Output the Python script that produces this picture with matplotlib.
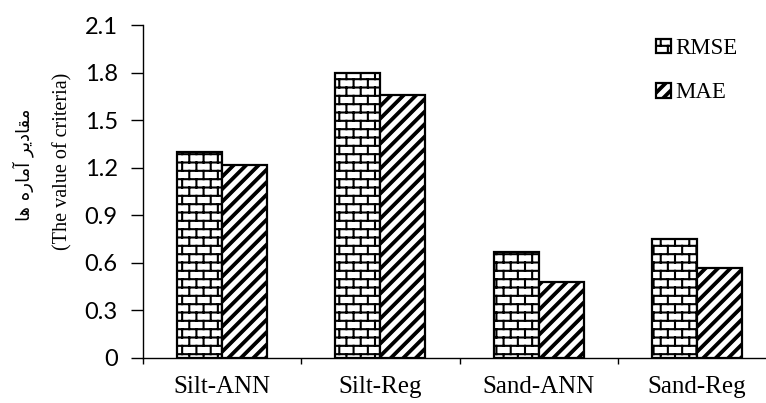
"""
bar chart of RMSE / MAE for the silt and sand models
"""

import warnings
import numpy as np
import matplotlib
matplotlib.use("Agg")
import matplotlib.pyplot as plt
import matplotlib.hatch as mhatch
from matplotlib.path import Path

warnings.filterwarnings("ignore")

categories = ["Silt-ANN", "Silt-Reg", "Sand-ANN", "Sand-Reg"]
rmse = [1.30, 1.80, 0.67, 0.75]
mae = [1.22, 1.66, 0.48, 0.57]
yticks = [0, 0.3, 0.6, 0.9, 1.2, 1.5, 1.8, 2.1]
ylabel_fa = "\ufe8e\ufeeb \ufee9\ufead\ufe8e\ufee3\ufe81 \ufeae\ufef3\ufea9\ufe8e\ufed8\ufee3"  # مقادیر آماره ها (shaped, visual order)
ylabel_en = "(The value of criteria)"


class BrickHatch(mhatch.HatchPatternBase):
    """brick wall pattern, used with hatch 'b'"""
    rows, cols = 12, 7

    def __init__(self, hatch, density):
        self.on = "b" in hatch
        nseg = self.rows + (self.rows + 1) * self.cols
        self.num_vertices = 2 * nseg if self.on else 0

    def set_vertices_and_codes(self, vertices, codes):
        segs = []
        ys = (np.arange(self.rows) + 0.5) / self.rows
        for y in ys:
            segs.append((-0.1, y, 1.1, y))
        for i in range(-1, self.rows):
            y0 = (i + 0.5) / self.rows
            y1 = (i + 1.5) / self.rows
            for j in range(self.cols):
                x = (j + 0.25 + 0.5 * (i % 2)) / self.cols
                segs.append((x, y0, x, y1))
        segs = np.array(segs)
        vertices[0::2] = segs[:, :2]
        vertices[1::2] = segs[:, 2:]
        codes[0::2] = Path.MOVETO
        codes[1::2] = Path.LINETO


class StripeHatch(mhatch.HatchPatternBase):
    """wide upward diagonal stripes, used with hatch 'd'"""
    n = 8
    offs = [0.0, 0.012, 0.024]

    def __init__(self, hatch, density):
        self.on = "d" in hatch
        nseg = (2 * self.n + 1) * len(self.offs)
        self.num_vertices = 2 * nseg if self.on else 0

    def set_vertices_and_codes(self, vertices, codes):
        segs = []
        for k in range(-self.n, self.n + 1):
            for o in self.offs:
                c = k / self.n + o
                segs.append((-0.1, c - 0.1, 1.1, c + 1.1))
        segs = np.array(segs)
        vertices[0::2] = segs[:, :2]
        vertices[1::2] = segs[:, 2:]
        codes[0::2] = Path.MOVETO
        codes[1::2] = Path.LINETO


mhatch._hatch_types.append(BrickHatch)
mhatch._hatch_types.append(StripeHatch)

plt.rcParams["hatch.linewidth"] = 1.5
plt.rcParams["hatch.color"] = "black"

fig = plt.figure(figsize=(7.66, 4.03), dpi=100)
ax = fig.add_axes([143 / 766, 45 / 403, 633 / 766, 333 / 403])

x = np.arange(len(categories))
w = 0.285
ax.bar(x - w / 2, rmse, w, color="white", edgecolor="black", linewidth=1.6,
       hatch="b", label="RMSE")
ax.bar(x + w / 2, mae, w, color="white", edgecolor="black", linewidth=1.6,
       hatch="d", label="MAE")

ax.set_xlim(-0.5, len(categories) - 0.5)
ax.set_ylim(0, 2.1)
ax.set_yticks(yticks)
ax.set_yticklabels(["0" if v == 0 else "%.1f" % v for v in yticks],
                   fontsize=17, family="Lato")
ax.tick_params(axis="y", direction="out", length=8.6, width=1, pad=9.5)

ax.set_xticks(np.arange(len(categories) + 1) - 0.5)
ax.set_xticklabels([])
ax.set_xticks(x, minor=True)
ax.set_xticklabels(categories, minor=True, fontsize=18, family="Liberation Serif")
ax.tick_params(axis="x", which="major", direction="out", length=4.5, width=1)
ax.tick_params(axis="x", which="minor", length=0, pad=13)

for s in ["top", "right"]:
    ax.spines[s].set_visible(False)
ax.spines["left"].set_linewidth(1)
ax.spines["bottom"].set_linewidth(1)

fig.text(23 / 766, 1 - 165 / 403, ylabel_fa, rotation=90, ha="center", va="center",
         fontsize=13, family="DejaVu Sans")
fig.text(63 / 766, 1 - 161 / 403, ylabel_en, rotation=90, ha="center", va="center",
         fontsize=14.5, family="Liberation Serif")

ax.legend(loc="upper left", bbox_to_anchor=(656 / 766, 1 - 38 / 403),
          bbox_transform=fig.transFigure, frameon=False,
          prop={"family": "Liberation Serif", "size": 16.5},
          handlelength=0.65, handleheight=0.6, handletextpad=0.2,
          labelspacing=1.02, borderpad=0, borderaxespad=0)

fig.savefig("out.png", dpi=100)
